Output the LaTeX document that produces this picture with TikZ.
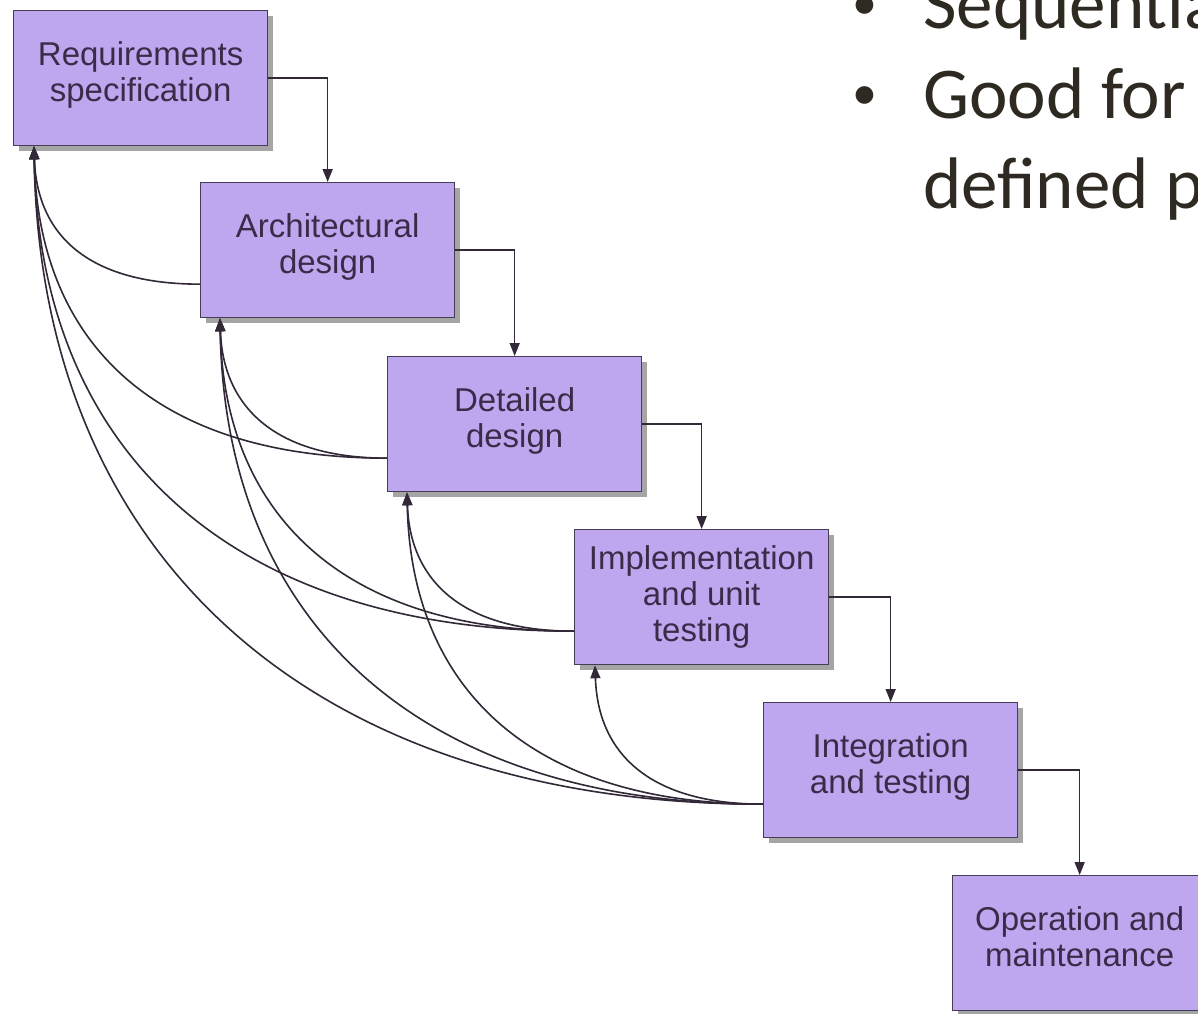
\documentclass[tikz,border=0pt]{standalone}
\usepackage{fontspec}
\setmainfont{Liberation Sans}
\newfontfamily\slidefont{Carlito}
\usetikzlibrary{arrows.meta,shadows}

\definecolor{boxfill}{RGB}{191,167,240}
\definecolor{boxline}{RGB}{70,60,84}
\definecolor{boxtext}{RGB}{58,44,72}
\definecolor{wire}{RGB}{50,40,56}
\definecolor{slidetext}{RGB}{46,42,34}
\definecolor{shade}{RGB}{165,165,165}

\begin{document}
\begin{tikzpicture}[x=1pt,y=-1pt,
  phase/.style={draw=boxline, line width=1.3pt, fill=boxfill, text=boxtext,
    minimum width=254pt, minimum height=135pt, inner sep=0pt,
    anchor=north west, align=center, font=\fontsize{33}{36}\selectfont,
    drop shadow={shadow xshift=5pt, shadow yshift=-5pt, fill=shade, opacity=1}},
  twoline/.style={text depth=14pt},
  flow/.style={draw=wire, line width=1.6pt, -{Triangle[length=13pt,width=10pt]}},
  back/.style={flow},
  bulletline/.style={anchor=base west, inner sep=0pt, text=slidetext,
    font=\slidefont\fontsize{73}{90}\selectfont}
]
\clip (0,0) rectangle (1198,1013);
\fill[white] (0,0) rectangle (1198,1013);

% the six phases of the waterfall
\node[phase,twoline] (req)   at (13,10)   {Requirements\\specification};
\node[phase,twoline] (arch)  at (200,182) {Architectural\\design};
\node[phase,twoline] (det)   at (387,356) {Detailed\\design};
\node[phase]         (impl)  at (574,529) {Implementation\\and unit\\testing};
\node[phase,twoline] (integ) at (763,702) {Integration\\and testing};
\node[phase,twoline] (ops)   at (952,875) {Operation and\\maintenance};

% forward flow
\draw[flow] (req.east)   -| (arch.north);
\draw[flow] (arch.east)  -| (det.north);
\draw[flow] (det.east)   -| (impl.north);
\draw[flow] (impl.east)  -| (integ.north);
\draw[flow] (integ.east) -| (ops.north);

% feedback entry points (bottom left of each box) and exit points (left side)
\coordinate (req-in)  at ([xshift=21pt]req.south west);
\coordinate (arch-in) at ([xshift=20pt]arch.south west);
\coordinate (det-in)  at ([xshift=20pt]det.south west);
\coordinate (impl-in) at ([xshift=21pt]impl.south west);
\coordinate (arch-out)  at ([yshift=-34pt]arch.west);
\coordinate (det-out)   at ([yshift=-34pt]det.west);
\coordinate (impl-out)  at ([yshift=-34pt]impl.west);
\coordinate (integ-out) at ([yshift=-34pt]integ.west);

% feedback loops
\draw[back] (arch-out)  .. controls +(-108,0) and +(3,92)  .. (req-in);
\draw[back] (det-out)   .. controls +(-226,0) and +(4,202) .. (req-in);
\draw[back] (det-out)   .. controls +(-109,0) and +(3,91)  .. (arch-in);
\draw[back] (impl-out)  .. controls +(-340,0) and +(5,308) .. (req-in);
\draw[back] (impl-out)  .. controls +(-226,0) and +(4,201) .. (arch-in);
\draw[back] (impl-out)  .. controls +(-109,0) and +(3,91)  .. (det-in);
\draw[back] (integ-out) .. controls +(-452,0) and +(6,410) .. (req-in);
\draw[back] (integ-out) .. controls +(-342,0) and +(5,306) .. (arch-in);
\draw[back] (integ-out) .. controls +(-228,0) and +(4,200) .. (det-in);
\draw[back] (integ-out) .. controls +(-110,0) and +(3,91)  .. (impl-in);

% bullet text
\node[bulletline] (l1) at (852,28)
  {\makebox[71pt][l]{\fontsize{50}{50}\selectfont\raisebox{9pt}{•}}Sequential};
\node[bulletline] (l2) at (852,118)
  {\makebox[71pt][l]{\fontsize{50}{50}\selectfont\raisebox{9pt}{•}}Good for};
\node[bulletline] (l3) at (852,208) {\hspace*{71pt}defined p};
\end{tikzpicture}
\end{document}
